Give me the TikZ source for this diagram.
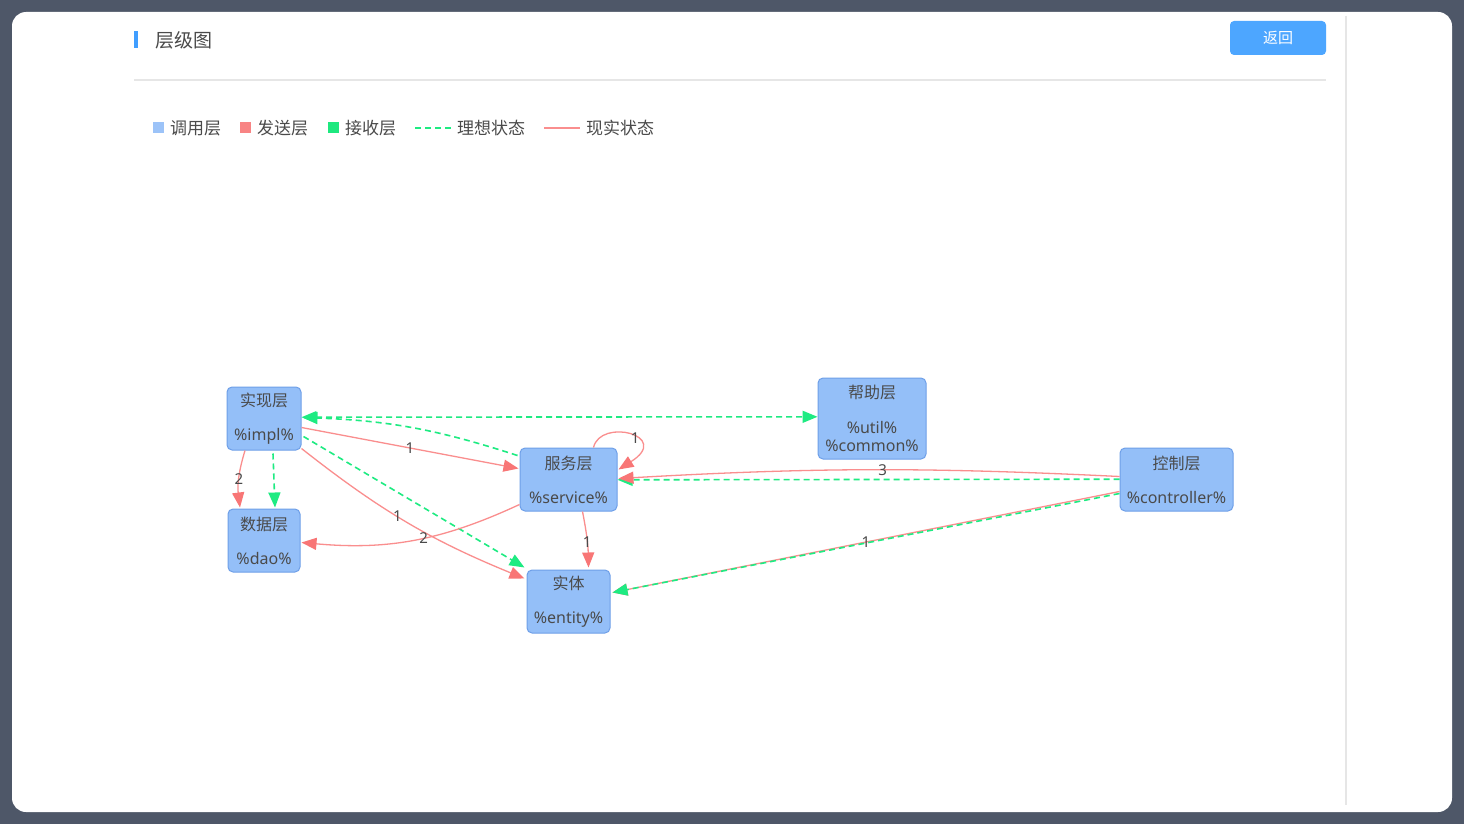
\documentclass[tikz,border=0pt]{standalone}
\usepackage{fontspec}
\setmainfont{Noto Sans}
\newfontfamily\cjk{Noto Sans CJK SC}
\usetikzlibrary{arrows.meta,calc}
\definecolor{framebg}{HTML}{4E5768}
\definecolor{nodefill}{HTML}{94BFF8}
\definecolor{nodeborder}{HTML}{6E9FE8}
\definecolor{redline}{HTML}{FA8E8E}
\definecolor{redtip}{HTML}{F87676}
\definecolor{greenline}{HTML}{1EEB82}
\definecolor{txt}{HTML}{4A4A4A}
\definecolor{btn}{HTML}{4DA6FF}
\definecolor{sepline}{HTML}{E6E6E6}
\definecolor{accent}{HTML}{409EFF}
\definecolor{legblue}{HTML}{9CC3F8}
\definecolor{legred}{HTML}{F88484}
\definecolor{leggreen}{HTML}{1EE87F}
\begin{document}
\begin{tikzpicture}[x=1pt,y=-1pt,
 layer/.style={draw=nodeborder, fill=nodefill, rounded corners=5pt, line width=1pt, inner sep=0pt, align=center, text=txt, font=\fontsize{16}{18}\selectfont},
 real/.style={draw=redline, line width=1.3pt, -{Triangle[length=15pt,width=12pt,color=redtip]}},
 ideal/.style={draw=greenline, line width=1.6pt, dash pattern=on 6pt off 4pt, -{Triangle[length=15pt,width=12pt,color=greenline]}},
 num/.style={text=txt, font=\fontsize{15}{15}\selectfont, inner sep=0pt},
 legtext/.style={anchor=west, text=txt, font=\fontsize{17}{17}\selectfont\cjk, inner sep=0pt},
]
\useasboundingbox (0,0) rectangle (1464,824);
\fill[framebg] (0,0) rectangle (1464,824);
\fill[white, rounded corners=14pt] (12,12) rectangle (1452,812);
% header
\draw[sepline, line width=1.5pt] (1346,16) -- (1346,805);
\draw[sepline, line width=1.2pt] (134,80) -- (1326,80);
\fill[accent] (134,31) rectangle (138,48);
\node[anchor=west, text=txt, font=\fontsize{19}{19}\selectfont\cjk, inner sep=0pt] (title) at (155,40) {层级图};
\node[fill=btn, rounded corners=4pt, minimum width=96pt, minimum height=34pt, inner sep=0pt, text=white, font=\fontsize{15}{15}\selectfont\cjk] (back) at (1278,38) {返回};
% legend
\fill[legblue] (153,122.5) rectangle (164,133.5);
\node[legtext] (l1) at (170,128) {调用层};
\fill[legred] (240,122.5) rectangle (251,133.5);
\node[legtext] (l2) at (257,128) {发送层};
\fill[leggreen] (328,122.5) rectangle (339,133.5);
\node[legtext] (l3) at (345,128) {接收层};
\coordinate (ld1) at (415,128);
\coordinate (ld2) at (452,128);
\draw[greenline, line width=1.6pt, dash pattern=on 6pt off 4pt] (ld1) -- (ld2);
\node[legtext] (l4) at (457,128) {理想状态};
\coordinate (lr1) at (544,128);
\coordinate (lr2) at (580,128);
\draw[redline, line width=1.4pt] (lr1) -- (lr2);
\node[legtext] (l5) at (586,128) {现实状态};
% nodes
\node[layer, minimum width=74pt, minimum height=63pt] (impl) at (264,418.5) {{\cjk 实现层}\\[16pt]\%impl\%};
\node[layer, minimum width=72pt, minimum height=63pt] (dao) at (264,540.5) {{\cjk 数据层}\\[16pt]\%dao\%};
\node[layer, minimum width=97pt, minimum height=63pt] (service) at (568.5,479.5) {{\cjk 服务层}\\[16pt]\%service\%};
\node[layer, minimum width=83pt, minimum height=63pt] (entity) at (568.5,601.5) {{\cjk 实体}\\[16pt]\%entity\%};
\node[layer, minimum width=108pt, minimum height=81pt] (util) at (872,418.5) {{\cjk 帮助层}\\[17pt]\%util\%\\\%common\%};
\node[layer, minimum width=113pt, minimum height=63pt] (ctrl) at (1176.5,479.5) {{\cjk 控制层}\\[16pt]\%controller\%};
% ideal (green dashed)
\draw[ideal, {Triangle[length=15pt,width=12pt,color=greenline]}-{Triangle[length=15pt,width=12pt,color=greenline]}] ($(impl.east)+(0,-1.3)$) -- ($(util.west)+(0,-1.7)$);
\draw[ideal, bend right=8] ($(service.west)+(-2,-24)$) to ($(impl.east)+(1,-1)$);
\draw[ideal] ($(impl.south)+(9,3)$) -- ($(dao.north)+(11,-1)$);
\draw[ideal] ($(impl.east)+(2,18)$) -- ($(entity.north west)+(-2,-2)$);
\draw[ideal] ($(ctrl.west)+(0,-0.3)$) -- ($(service.east)+(0,0.3)$);
% real (red)
\draw[real] ($(impl.east)+(0,9)$) -- node[num, pos=0.5] (n1) {1} ($(service.west)+(-1,-11)$);
\draw[real, bend right=12] ($(impl.south)+(-19,0)$) to node[num, pos=0.5] (n2) {2} ($(dao.north)+(-24,-1)$);
\draw[real, bend right=8] ($(impl.south east)+(0,-2)$) to node[num, pos=0.45] (n3) {1} ($(entity.north west)+(-2,9)$);
\draw[real, bend left=15] ($(service.west)+(0,25)$) to node[num, pos=0.45] (n4) {2} ($(dao.east)+(1,2)$);
\draw[real] ($(service.north)+(25,0)$) .. controls +(7,-30) and +(54,-34) .. node[num, pos=0.6] (n5) {1} ($(service.east)+(1,-10)$);
\draw[real, bend left=5] ($(service.south)+(14,0)$) to node[num, pos=0.55] (n6) {1} ($(entity.north)+(20,-2)$);
\draw[real, bend right=3] ($(ctrl.west)+(0,-3)$) to node[num, pos=0.47] (n7) {3} ($(service.east)+(1,-1)$);
\draw[real] ($(ctrl.west)+(0,12)$) -- node[num, pos=0.5] (n8) {1} ($(entity.east)+(2,-9)$);
\draw[ideal] ($(ctrl.west)+(0,14)$) -- ($(entity.east)+(2,-9)$);
\end{tikzpicture}
\end{document}
